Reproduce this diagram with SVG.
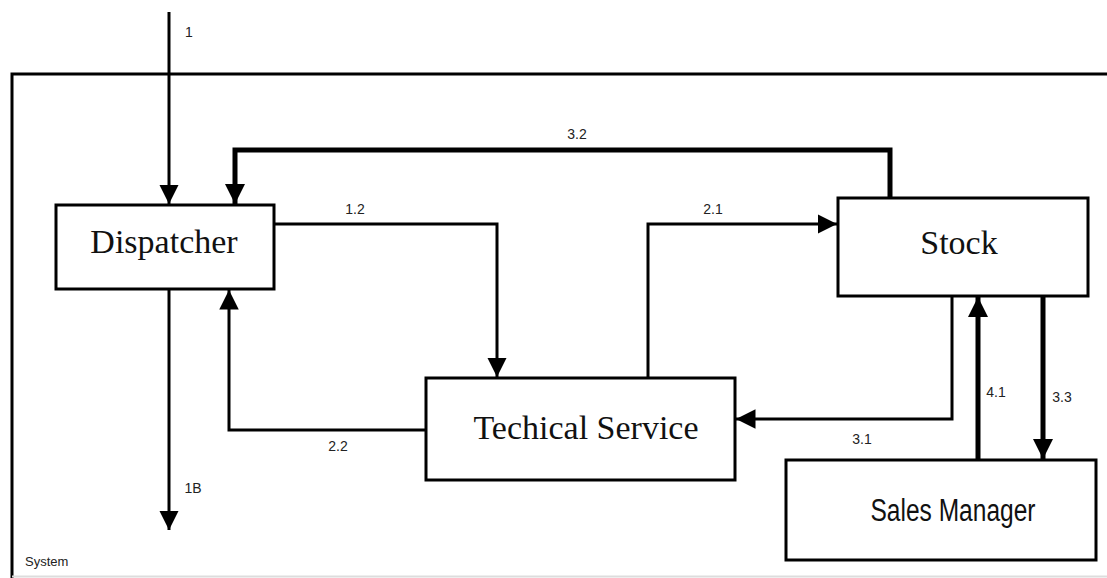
<svg xmlns="http://www.w3.org/2000/svg" width="1107" height="578" viewBox="0 0 1107 578">
<style>
.box{fill:#fff;stroke:#000;stroke-width:3}
.ln{fill:none;stroke:#000;stroke-width:3}
.thk{fill:none;stroke:#000;stroke-width:5}
.ser{font-family:"Liberation Serif",serif;font-size:34px;fill:#111;text-anchor:middle}
.lbl{font-family:"Liberation Sans",Arial,sans-serif;font-size:14px;fill:#222;text-anchor:middle}
.sm{font-family:"Liberation Sans",Arial,sans-serif;font-size:31px;fill:#111;text-anchor:middle}
</style>
<defs>
<marker id="ah" viewBox="0 0 10 10" refX="10" refY="5" markerWidth="6.5" markerHeight="6.5" markerUnits="strokeWidth" orient="auto"><path d="M0,0 L10,5 L0,10 Z" fill="#000"/></marker>
<marker id="ahT" viewBox="0 0 10 10" refX="10" refY="5" markerWidth="4" markerHeight="4" markerUnits="strokeWidth" orient="auto"><path d="M0,0 L10,5 L0,10 Z" fill="#000"/></marker>
</defs>
<rect width="1107" height="578" fill="#fff"/>
<g id="system">
<path d="M1107,74 H12 V578" fill="none" stroke="#000" stroke-width="3"/>
<line x1="12" y1="576.5" x2="1107" y2="576.5" stroke="#ddd" stroke-width="2"/>
<text x="25" y="566" font-family="Liberation Sans,Arial,sans-serif" font-size="13" fill="#222">System</text>
</g>
<g id="connectors">
<path class="ln" d="M169,12 V204" marker-end="url(#ah)"/>
<text class="lbl" x="189" y="37" fill="#665">1</text>
<path class="thk" d="M890,198 V150 H235 V204" marker-end="url(#ahT)"/>
<text class="lbl" x="577" y="139">3.2</text>
<path class="ln" d="M274,224 H497 V377" marker-end="url(#ah)"/>
<text class="lbl" x="355" y="214">1.2</text>
<path class="ln" d="M648,378 V224 H837" marker-end="url(#ah)"/>
<text class="lbl" x="713" y="214">2.1</text>
<path class="ln" d="M952,296 V419 H736" marker-end="url(#ah)"/>
<text class="lbl" x="862" y="444">3.1</text>
<path class="thk" d="M978,460 V297" marker-end="url(#ahT)"/>
<text class="lbl" x="996" y="397" font-size="12">4.1</text>
<path class="thk" d="M1043,296 V459" marker-end="url(#ahT)"/>
<text class="lbl" x="1062" y="402" font-size="12">3.3</text>
<path class="ln" d="M426,430 H229 V290" marker-end="url(#ah)"/>
<text class="lbl" x="338" y="451">2.2</text>
<path class="ln" d="M169,289 V530" marker-end="url(#ah)"/>
<text class="lbl" x="193" y="493">1B</text>
</g>
<g id="dispatcher">
<rect class="box" x="56" y="205" width="218" height="84"/>
<text class="ser" x="164" y="253">Dispatcher</text>
</g>
<g id="stock">
<rect class="box" x="838" y="198" width="250" height="98"/>
<text class="ser" x="959" y="254">Stock</text>
</g>
<g id="techical-service">
<rect class="box" x="426" y="378" width="309" height="102"/>
<text class="ser" x="586" y="439">Techical Service</text>
</g>
<g id="sales-manager">
<rect class="box" x="786" y="460" width="310" height="100"/>
<text class="sm" x="953" y="521" textLength="165" lengthAdjust="spacingAndGlyphs">Sales Manager</text>
</g>
</svg>
